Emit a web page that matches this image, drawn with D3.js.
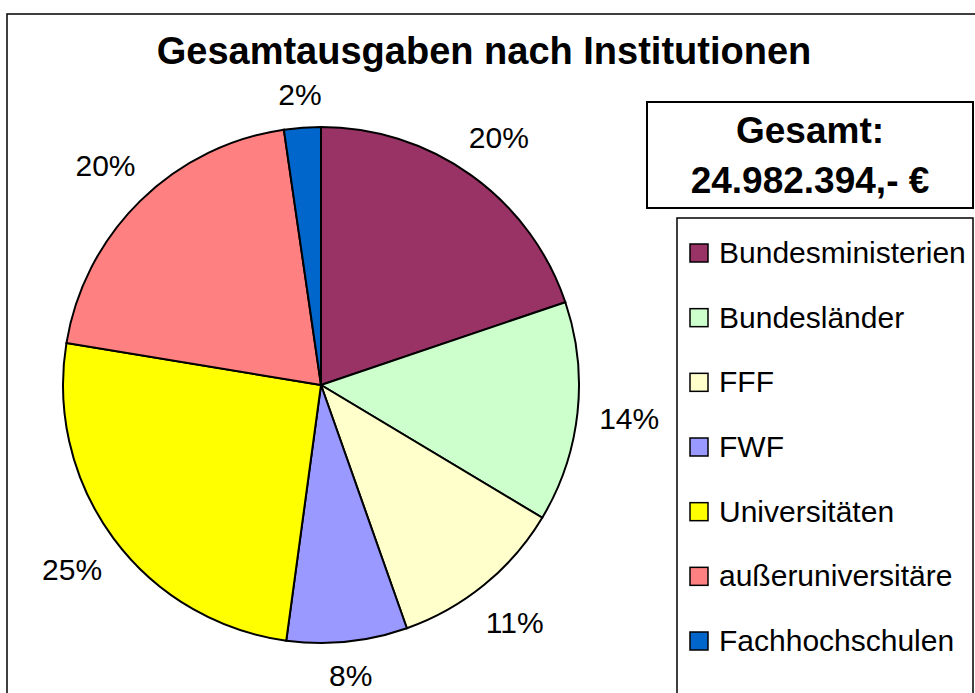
<!DOCTYPE html>
<html>
<head>
<meta charset="utf-8">
<script src="https://cdn.jsdelivr.net/npm/d3@7"></script>
<style>
  body { margin: 0; background: #fff; }
  text { font-family: "Liberation Sans", Arial, sans-serif; }
</style>
</head>
<body>
<svg width="975" height="693"></svg>
<script>
const categories = ['Bundesministerien', 'Bundesländer', 'FFF', 'FWF', 'Universitäten', 'außeruniversitäre', 'Fachhochschulen'];
const shares = [19.8, 13.8, 11.0, 7.55, 25.45, 20.1, 2.3];
const colors = ['#993366', '#CCFFCC', '#FFFFCC', '#9999FF', '#FFFF00', '#FF8080', '#0066CC'];
const total_label = ['Gesamt:', '24.982.394,- €'];

const data = categories.map((c, i) => ({name: c, value: shares[i], color: colors[i]}));

const svg = d3.select('svg');

// outer chart frame
svg.append('rect')
    .attr('x', 7).attr('y', 14)
    .attr('width', 1000).attr('height', 720)
    .attr('fill', 'none').attr('stroke', '#000').attr('stroke-width', 1.5);

svg.append('text')
    .attr('x', 484).attr('y', 64)
    .attr('text-anchor', 'middle')
    .style('font-size', '38px').style('font-weight', 'bold')
    .text('Gesamtausgaben nach Institutionen');

const cx = 321, cy = 385, r = 258;
const pie = d3.pie().value(d => d.value).sort(null);
const arc = d3.arc().innerRadius(0).outerRadius(r);
const total = d3.sum(shares);
const pct = d3.format('.0%');

const g = svg.append('g').attr('transform', `translate(${cx},${cy})`);
const arcs = pie(data);

g.selectAll('path')
    .data(arcs)
    .join('path')
    .attr('d', arc)
    .attr('fill', d => d.data.color)
    .attr('stroke', '#000')
    .attr('stroke-width', 2);

// labels sit outside the pie, their box kept a fixed gap from the rim
const fs = 30, gap = 21;
function labelPos(d) {
    const a = (d.startAngle + d.endAngle) / 2;
    const txt = pct(d.data.value / total);
    const w = txt.length * 0.667 * fs;
    const h = 0.716 * fs;
    const rr = r + gap + Math.abs(Math.sin(a)) * w / 2 + Math.abs(Math.cos(a)) * h / 2;
    return [Math.sin(a) * rr, -Math.cos(a) * rr];
}

g.selectAll('text')
    .data(arcs)
    .join('text')
    .attr('x', d => labelPos(d)[0])
    .attr('y', d => labelPos(d)[1] + 0.716 * fs / 2)
    .attr('text-anchor', 'middle')
    .style('font-size', fs + 'px')
    .text(d => pct(d.data.value / total));

// total box
svg.append('rect')
    .attr('x', 647).attr('y', 102)
    .attr('width', 326).attr('height', 106)
    .attr('fill', '#fff').attr('stroke', '#000').attr('stroke-width', 2);

svg.selectAll('text.total')
    .data(total_label)
    .join('text')
    .attr('class', 'total')
    .attr('x', 810)
    .attr('y', (d, i) => 143 + i * 50)
    .attr('text-anchor', 'middle')
    .style('font-size', '37px').style('font-weight', 'bold')
    .text(d => d);

// legend
svg.append('rect')
    .attr('x', 677).attr('y', 218)
    .attr('width', 296).attr('height', 500)
    .attr('fill', '#fff').attr('stroke', '#000').attr('stroke-width', 1.5);

const legendY = d3.scalePoint().domain(categories).range([253, 641]);

const items = svg.selectAll('g.legend')
    .data(data)
    .join('g')
    .attr('class', 'legend')
    .attr('transform', d => `translate(690,${legendY(d.name)})`);

items.append('rect')
    .attr('x', 0).attr('y', -9)
    .attr('width', 18).attr('height', 18)
    .attr('fill', d => d.color)
    .attr('stroke', '#000').attr('stroke-width', 1.5);

items.append('text')
    .attr('x', 29).attr('y', 10)
    .style('font-size', '30px')
    .text(d => d.name);
</script>
</body>
</html>
